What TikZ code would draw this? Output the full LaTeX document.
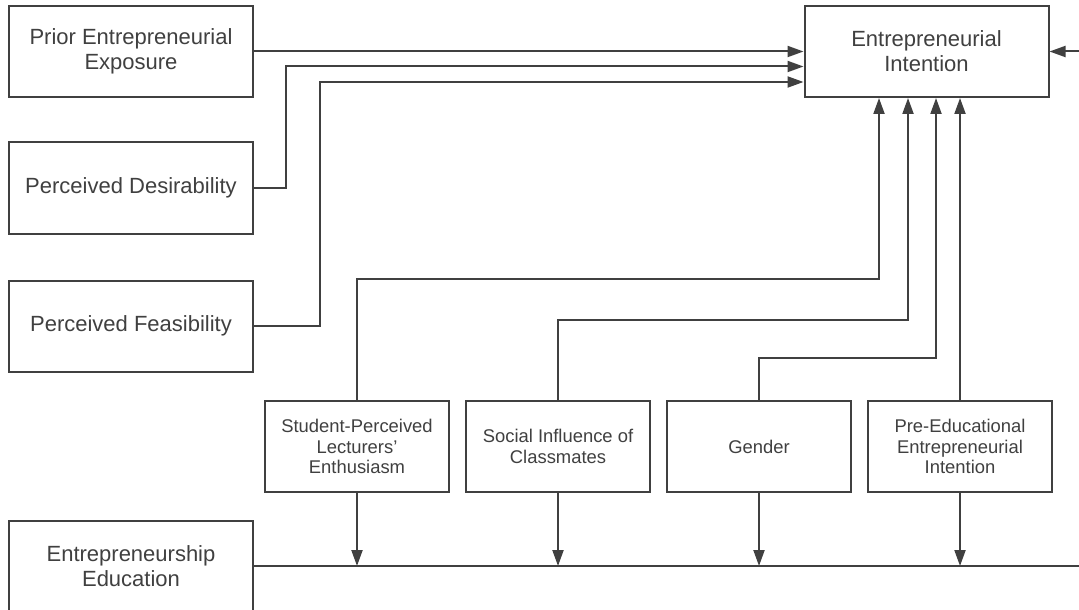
\documentclass[tikz,border=0pt]{standalone}
\usepackage{xcolor}
\usepackage{fontspec}
\setmainfont{Liberation Sans}
\usepackage{tikz}
\usetikzlibrary{arrows.meta, positioning}
\definecolor{lineGray}{HTML}{404040}

\begin{document}
\begin{tikzpicture}[
    x=0.5pt, y=-0.5pt,
    construct/.style={rectangle, draw=lineGray, line width=1pt, fill=white, text=lineGray, minimum width=122pt, minimum height=45.5pt, inner sep=0pt, align=center, font=\fontsize{11}{12.5}\selectfont},
    moderator/.style={construct, minimum width=92pt, font=\fontsize{9.2}{10.2}\selectfont},
    link/.style={draw=lineGray, line width=1pt},
    arrow/.style={link, -{Triangle[length=8pt, width=5.5pt]}},
]
    \useasboundingbox[fill=white] (0,0) rectangle (1079,609);

    \node[construct] (pee) at (131,51.5) {Prior Entrepreneurial\\Exposure};
    \node[construct] (pd) at (131,188) {Perceived Desirability};
    \node[construct] (pf) at (131,326) {Perceived Feasibility};
    \node[construct] (ei) at (926.5,51.5) {Entrepreneurial\\Intention};
    \node[construct] (ee) at (131,566) {Entrepreneurship\\Education};

    \node[moderator] (lec) at (357,446.5) {Student-Perceived\\Lecturers'\\Enthusiasm};
    \node[moderator, right=7.5pt of lec] (soc) {Social Influence of\\Classmates};
    \node[moderator, right=7.5pt of soc] (gen) {Gender};
    \node[moderator, right=7.5pt of gen] (pre) {Pre-Educational\\Entrepreneurial\\Intention};

    \coordinate (feed) at (1079,51.5);
    \coordinate (rim) at (1079,566);

    % antecedents
    \draw[arrow] (pee) -- (ei);
    \draw[arrow] (pd.east) -- ++(32,0) |- ([yshift=-7.5pt]ei.west);
    \draw[arrow] (pf.east) -- ++(66,0) |- ([yshift=-15.25pt]ei.west);
    \draw[arrow] (feed) -- (ei.east);

    % moderators to intention
    \draw[arrow] (lec.north) -- ++(0,-121) -| ([xshift=-23.75pt]ei.south);
    \draw[arrow] (soc.north) -- ++(0,-80) -| ([xshift=-9.25pt]ei.south);
    \draw[arrow] (gen.north) -- ++(0,-42) -| ([xshift=4.75pt]ei.south);
    \draw[arrow] (pre.north) -- (pre.north |- ei.south);

    % moderators to education line
    \draw[link] (ee.east) -- (rim);
    \foreach \m in {lec, soc, gen, pre}
        \draw[arrow] (\m.south) -- (\m.south |- ee.east);
\end{tikzpicture}
\end{document}
